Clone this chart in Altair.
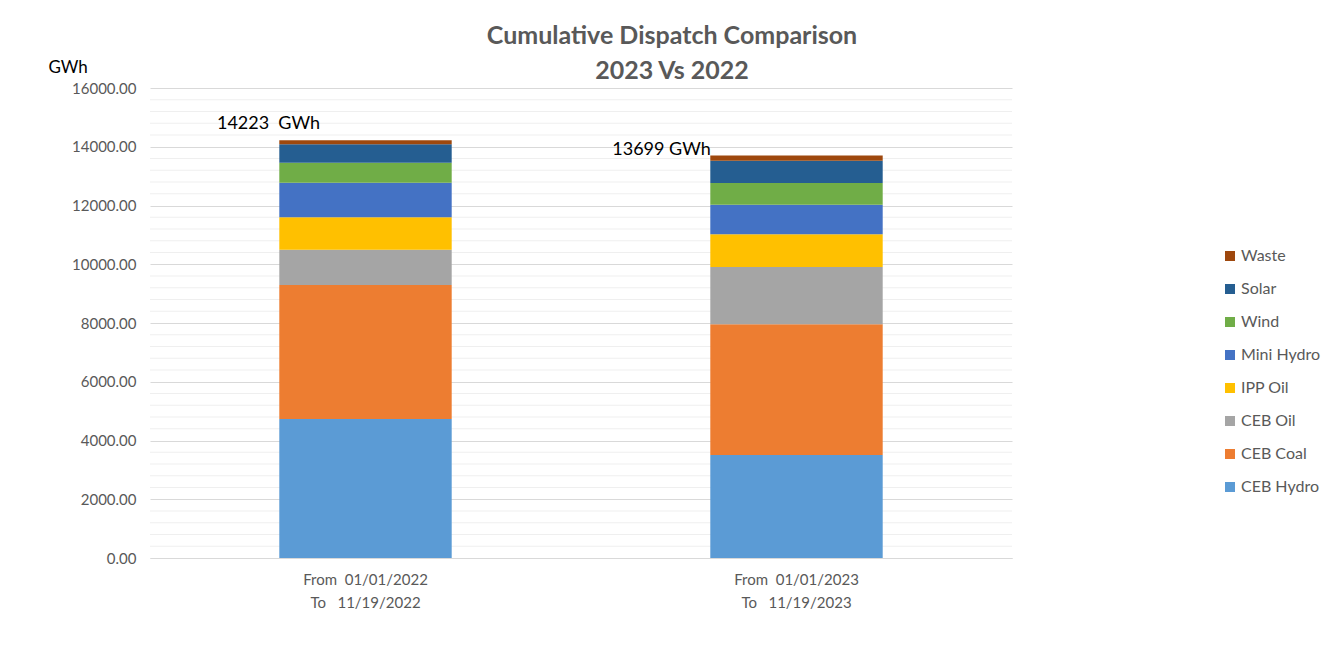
import altair as alt
import pandas as pd

NB = "\u00a0"
periods = [f"From{NB}{NB}01/01/2022\nTo{NB}{NB}{NB}11/19/2022", f"From{NB}{NB}01/01/2023\nTo{NB}{NB}{NB}11/19/2023"]
sources = ["CEB Hydro", "CEB Coal", "CEB Oil", "IPP Oil", "Mini Hydro", "Wind", "Solar", "Waste"]
values_2022 = [4732, 4562, 1202, 1101, 1179, 681, 626, 140]
values_2023 = [3506, 4449, 1951, 1113, 1008, 739, 759, 174]
totals = [14223, 13699]
total_labels = [f"14223{NB}{NB}GWh", "13699 GWh"]
colors = ["#5B9BD5", "#ED7D31", "#A5A5A5", "#FFC000", "#4472C4", "#70AD47", "#255E91", "#9E480E"]
major_ticks = list(range(0, 16001, 2000))
minor_ticks = [v for v in range(400, 16000, 400) if v % 2000 != 0]

rows = []
for p, vals in zip(periods, [values_2022, values_2023]):
    for i, (s, v) in enumerate(zip(sources, vals)):
        rows.append({"period": p, "source": s, "value": v, "order": i})
df = pd.DataFrame(rows)
tot_df = pd.DataFrame({"period": periods, "total": totals, "label": total_labels})
minor_df = pd.DataFrame({"g": minor_ticks})

FONT = "Lato"
GREY = "#595959"

x_axis = alt.Axis(
    title=None,
    labelAngle=0,
    labelExpr="split(datum.label, '\\n')",
    labelFontSize=15,
    labelColor=GREY,
    labelFont=FONT,
    labelLineHeight=23,
    labelPadding=14,
    ticks=False,
    domainColor="#d9d9d9",
    labelBaseline="top",
)
x_scale = alt.Scale(paddingInner=0.6, paddingOuter=0.3)
y_scale = alt.Scale(domain=[0, 16000], nice=False)
y_axis = alt.Axis(
    values=major_ticks,
    format=".2f",
    labelOverlap=False,
    gridColor="#d9d9d9",
    ticks=False,
    domain=False,
    labelFontSize=15,
    labelColor=GREY,
    labelFont=FONT,
    labelPadding=14,
    title="GWh",
    titleAngle=0,
    titleAlign="left",
    titleBaseline="middle",
    titleX=-102,
    titleY=-21,
    titleFontSize=17,
    titleFontWeight="normal",
    titleFont=FONT,
    titleColor="black",
)

minor = alt.Chart(minor_df).mark_rule(color="#efefef", strokeWidth=1).encode(
    y=alt.Y("g:Q", scale=y_scale, axis=y_axis)
)

bars = alt.Chart(df).mark_bar().encode(
    x=alt.X("period:N", sort=periods, scale=x_scale, axis=x_axis),
    y=alt.Y("value:Q", stack="zero", scale=y_scale, axis=y_axis),
    color=alt.Color(
        "source:N",
        scale=alt.Scale(domain=sources[::-1], range=colors[::-1]),
        legend=alt.Legend(
            title=None,
            orient="none",
            legendX=1072,
            legendY=160,
            symbolType="square",
            symbolSize=100,
            symbolStrokeWidth=0,
            labelFontSize=16,
            labelColor=GREY,
            labelFont=FONT,
            rowPadding=17,
            labelOffset=3,
        ),
    ),
    order=alt.Order("order:Q", sort="ascending"),
)

t1 = alt.Chart(tot_df).transform_filter(alt.datum.total == totals[0]).mark_text(
    fontSize=18, font=FONT, color="black", dx=-97, dy=-16
).encode(
    x=alt.X("period:N", sort=periods, scale=x_scale, axis=x_axis),
    y=alt.Y("total:Q", scale=y_scale, axis=y_axis),
    text="label:N",
)
t2 = alt.Chart(tot_df).transform_filter(alt.datum.total == totals[1]).mark_text(
    fontSize=18, font=FONT, color="black", dx=-135, dy=-6
).encode(
    x=alt.X("period:N", sort=periods, scale=x_scale, axis=x_axis),
    y=alt.Y("total:Q", scale=y_scale, axis=y_axis),
    text="label:N",
)

chart = alt.layer(minor, bars, t1, t2).properties(
    width=862,
    height=470,
    background="white",
    title=alt.TitleParams(
        text=["Cumulative Dispatch Comparison", "2023 Vs 2022"],
        fontSize=25,
        font=FONT,
        fontWeight="bold",
        color=GREY,
        anchor="middle",
        dx=91,
        dy=32,
        lineHeight=35,
        offset=6,
    ),
    autosize=alt.AutoSizeParams(type="none"),
    padding={"left": 142, "top": 80, "right": 320, "bottom": 86},
).configure_view(stroke=None)

chart.save("out.html", embed_options={"renderer": "svg", "actions": False})
